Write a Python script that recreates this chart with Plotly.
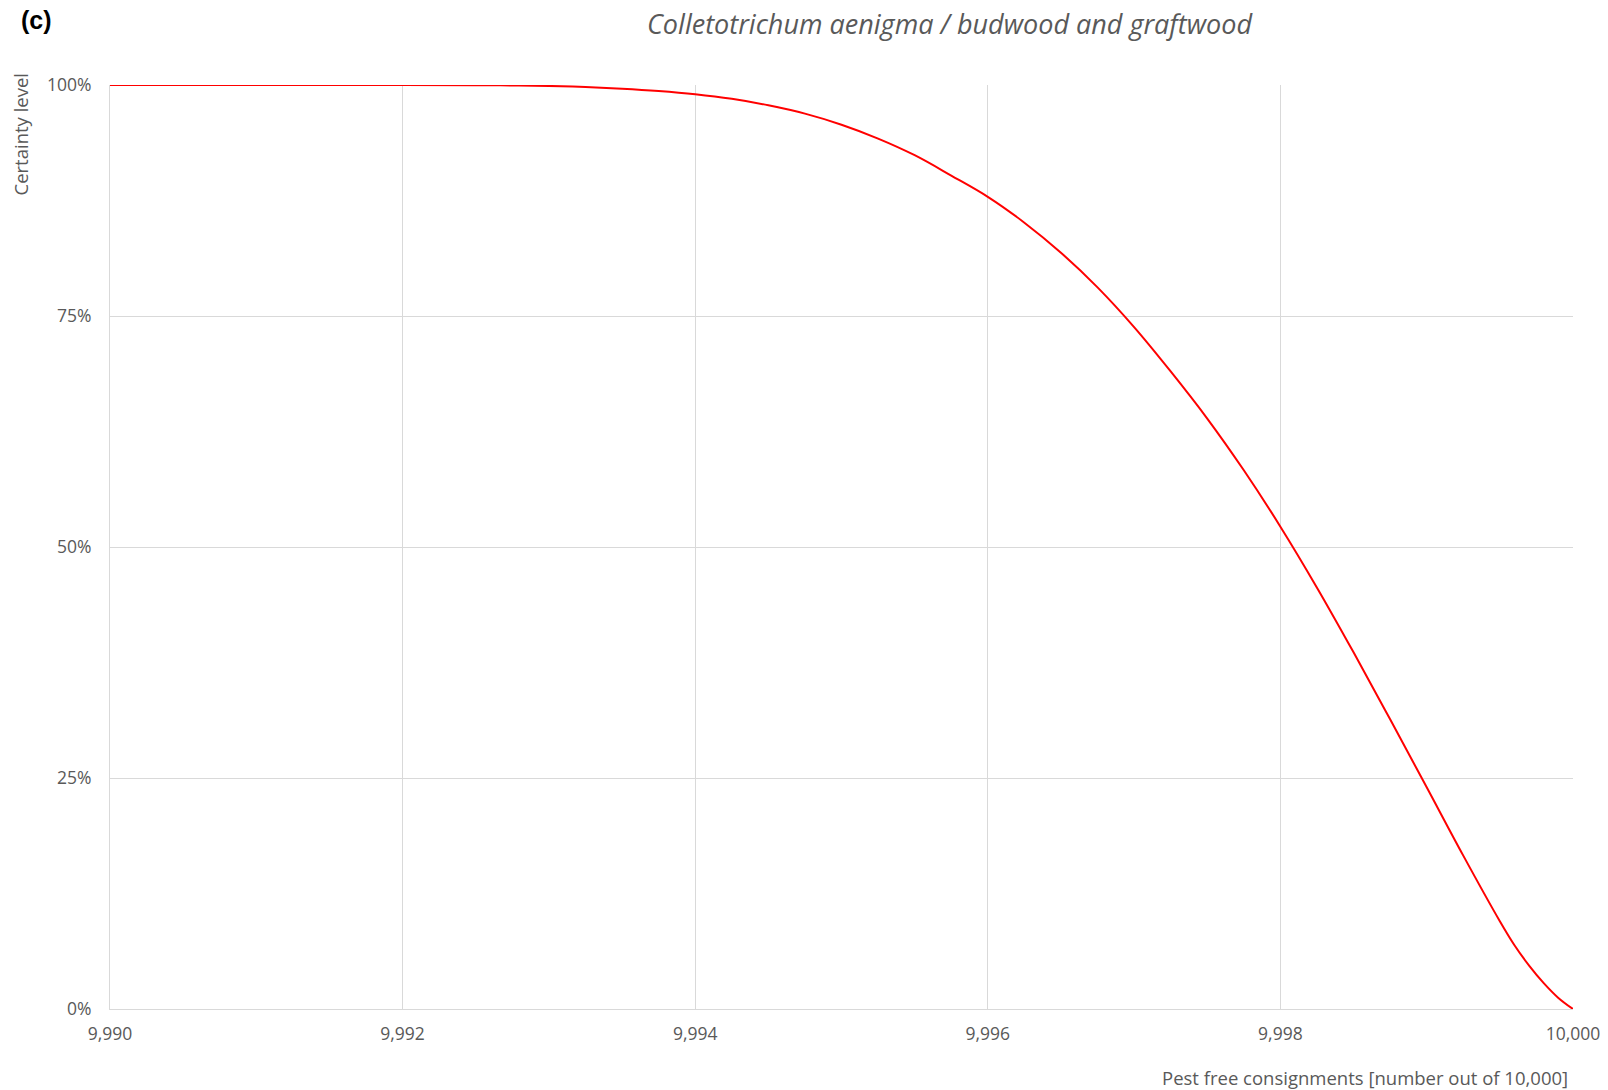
import plotly.graph_objects as go

# Pest free consignments (number out of 10,000) and certainty level (fraction)
pest_free = [9990, 9991, 9992, 9992.5, 9992.75, 9993, 9993.25, 9993.5, 9993.75,
             9994, 9994.25, 9994.5, 9994.75, 9995, 9995.25, 9995.5, 9995.75,
             9996, 9996.25, 9996.5, 9996.75, 9997, 9997.25, 9997.5, 9997.75,
             9998, 9998.25, 9998.5, 9998.75, 9999, 9999.25, 9999.5, 9999.6,
             9999.7, 9999.8, 9999.9, 10000]
certainty = [1.000, 1.000, 1.000, 0.9998, 0.9995, 0.999, 0.9978, 0.996, 0.9935,
             0.990, 0.985, 0.978, 0.969, 0.957, 0.942, 0.924, 0.902,
             0.879, 0.851, 0.8185, 0.781, 0.738, 0.690, 0.639, 0.583,
             0.522, 0.456, 0.386, 0.3135, 0.240, 0.166, 0.095, 0.069,
             0.047, 0.028, 0.012, 0.000]

x_ticks = [9990, 9992, 9994, 9996, 9998, 10000]
y_ticks = [0, 0.25, 0.5, 0.75, 1.0]

title_text = "Colletotrichum aenigma / budwood and graftwood"
panel_label = "(c)"
y_title = "Certainty level"
x_title = "Pest free consignments [number out of 10,000]"

grey = "#595959"
grid = "#d9d9d9"
FONT = "Open Sans, sans-serif"

fig = go.Figure()
fig.add_trace(go.Scatter(
    x=pest_free, y=certainty, mode="lines",
    line=dict(color="#ff0000", width=2, shape="spline", smoothing=1.0),
    hoverinfo="skip", showlegend=False, cliponaxis=False,
))

fig.update_layout(
    width=1608, height=1090,
    margin=dict(l=110, r=35, t=85, b=81, autoexpand=False),
    paper_bgcolor="white", plot_bgcolor="white",
    font=dict(family=FONT, color=grey, size=17),
    showlegend=False,
)

fig.update_xaxes(
    range=[9990, 10000], tickvals=x_ticks, tickformat=",d",
    showgrid=True, gridcolor=grid, gridwidth=1,
    showline=True, linecolor=grid, linewidth=1,
    zeroline=False, ticks="outside", ticklen=9, tickcolor="rgba(0,0,0,0)",
    tickfont=dict(size=17.5, color=grey, family=FONT), automargin=False,
)
fig.update_yaxes(
    range=[0, 1], tickvals=y_ticks, tickformat=".0%",
    showgrid=True, gridcolor=grid, gridwidth=1,
    showline=True, linecolor=grid, linewidth=1,
    zeroline=False, ticks="outside", ticklen=14, tickcolor="rgba(0,0,0,0)",
    tickfont=dict(size=17.5, color=grey, family=FONT), automargin=False,
)

annotations = [
    dict(text=f"<i>{title_text}</i>", x=950, y=24,
         font=dict(size=27, color=grey, family=FONT)),
    dict(text=f"<b>{panel_label}</b>", x=36, y=20,
         font=dict(size=25, color="black", family="Liberation Sans, Arial, sans-serif")),
    dict(text=y_title, x=20, y=71, textangle=-90, yanchor="top",
         font=dict(size=18.5, color=grey, family=FONT)),
    dict(text=x_title, x=1570, y=1077, xanchor="right",
         font=dict(size=18.5, color=grey, family=FONT)),
]
# convert pixel positions to paper coordinates
W, H = 1608, 1090
l, r, t, b = 110, 35, 85, 81
pw, ph = W - l - r, H - t - b
for a in annotations:
    px, py = a.pop("x"), a.pop("y")
    a["xref"] = "paper"
    a["yref"] = "paper"
    a["x"] = (px - l) / pw
    a["y"] = (H - b - py) / ph
    a["showarrow"] = False
    a.setdefault("xanchor", "center")
    a.setdefault("yanchor", "middle")
fig.update_layout(annotations=annotations)

fig.write_html("out.html")
